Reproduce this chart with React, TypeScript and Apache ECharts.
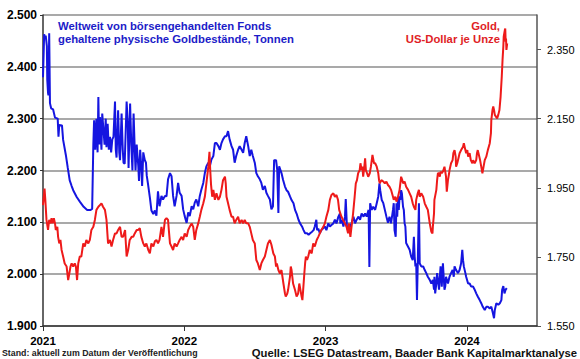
import React, { useEffect, useRef } from 'react';
import * as echarts from 'echarts';

// Weltweit von ETFs gehaltene physische Goldbestände, Tonnen (left axis)
const etfHoldings: [string, number][] = [
  ['2021-01-01', 2380], ['2021-01-04', 2463], ['2021-01-06', 2455], ['2021-01-08', 2460],
  ['2021-01-11', 2440], ['2021-01-12', 2375], ['2021-01-14', 2350], ['2021-01-15', 2345],
  ['2021-01-17', 2465], ['2021-01-19', 2330], ['2021-01-22', 2320], ['2021-01-27', 2318],
  ['2021-02-01', 2302], ['2021-02-08', 2300], ['2021-02-10', 2265], ['2021-02-12', 2288],
  ['2021-02-19', 2287], ['2021-02-22', 2259], ['2021-03-01', 2230], ['2021-03-06', 2205],
  ['2021-03-11', 2181], ['2021-03-16', 2170], ['2021-03-20', 2162], ['2021-03-29', 2149],
  ['2021-04-07', 2139], ['2021-04-16', 2130], ['2021-04-25', 2124], ['2021-05-04', 2124],
  ['2021-05-08', 2126], ['2021-05-11', 2250], ['2021-05-13', 2297], ['2021-05-16', 2240],
  ['2021-05-19', 2300], ['2021-05-22', 2235], ['2021-05-24', 2342], ['2021-05-26', 2250],
  ['2021-05-28', 2303], ['2021-06-01', 2240], ['2021-06-03', 2310], ['2021-06-06', 2280],
  ['2021-06-09', 2250], ['2021-06-12', 2300], ['2021-06-14', 2245], ['2021-06-17', 2290],
  ['2021-06-20', 2240], ['2021-06-23', 2265], ['2021-06-26', 2235], ['2021-06-29', 2260],
  ['2021-07-02', 2265], ['2021-07-06', 2333], ['2021-07-08', 2240], ['2021-07-10', 2225],
  ['2021-07-14', 2316], ['2021-07-17', 2235], ['2021-07-19', 2220], ['2021-07-23', 2310],
  ['2021-07-26', 2240], ['2021-07-28', 2215], ['2021-07-31', 2213], ['2021-08-05', 2333],
  ['2021-08-08', 2290], ['2021-08-10', 2205], ['2021-08-14', 2329], ['2021-08-17', 2250],
  ['2021-08-20', 2200], ['2021-08-23', 2310], ['2021-08-26', 2240], ['2021-08-28', 2200],
  ['2021-08-31', 2250], ['2021-09-04', 2210], ['2021-09-06', 2180], ['2021-09-09', 2240],
  ['2021-09-12', 2205], ['2021-09-14', 2170], ['2021-09-17', 2235], ['2021-09-21', 2220],
  ['2021-09-24', 2215], ['2021-09-26', 2190], ['2021-09-29', 2175], ['2021-10-04', 2148],
  ['2021-10-08', 2123], ['2021-10-13', 2116], ['2021-10-17', 2123], ['2021-10-21', 2113],
  ['2021-10-25', 2160], ['2021-10-29', 2131], ['2021-11-03', 2151], ['2021-11-07', 2144],
  ['2021-11-12', 2151], ['2021-11-16', 2150], ['2021-11-20', 2183], ['2021-11-25', 2195],
  ['2021-11-29', 2189], ['2021-12-03', 2151], ['2021-12-07', 2131], ['2021-12-12', 2151],
  ['2021-12-16', 2176], ['2021-12-20', 2157], ['2021-12-25', 2151], ['2021-12-29', 2125],
  ['2022-01-02', 2112], ['2022-01-07', 2099], ['2022-01-11', 2119], ['2022-01-15', 2112],
  ['2022-01-20', 2131], ['2022-01-24', 2125], ['2022-01-28', 2138], ['2022-02-01', 2144],
  ['2022-02-06', 2131], ['2022-02-10', 2151], ['2022-02-14', 2163], ['2022-02-19', 2176],
  ['2022-02-23', 2195], ['2022-02-27', 2208], ['2022-03-04', 2215], ['2022-03-08', 2208],
  ['2022-03-12', 2221], ['2022-03-17', 2228], ['2022-03-21', 2253], ['2022-03-25', 2253],
  ['2022-03-30', 2247], ['2022-04-03', 2240], ['2022-04-07', 2253], ['2022-04-11', 2260],
  ['2022-04-16', 2266], ['2022-04-20', 2266], ['2022-04-24', 2276], ['2022-04-28', 2260],
  ['2022-05-03', 2247], ['2022-05-07', 2240], ['2022-05-11', 2215], ['2022-05-15', 2228],
  ['2022-05-20', 2240], ['2022-05-24', 2247], ['2022-05-29', 2240], ['2022-06-02', 2234],
  ['2022-06-06', 2253], ['2022-06-10', 2266], ['2022-06-15', 2247], ['2022-06-19', 2228],
  ['2022-06-23', 2240], ['2022-06-27', 2228], ['2022-07-02', 2215], ['2022-07-06', 2195],
  ['2022-07-10', 2189], ['2022-07-15', 2183], ['2022-07-19', 2176], ['2022-07-23', 2163],
  ['2022-07-28', 2170], ['2022-08-01', 2157], ['2022-08-05', 2151], ['2022-08-10', 2144],
  ['2022-08-14', 2125], ['2022-08-18', 2131], ['2022-08-21', 2220], ['2022-08-26', 2220],
  ['2022-08-29', 2201], ['2022-09-01', 2118], ['2022-09-03', 2208], ['2022-09-09', 2195],
  ['2022-09-13', 2182], ['2022-09-18', 2169], ['2022-09-22', 2162], ['2022-09-26', 2159],
  ['2022-10-01', 2150], ['2022-10-05', 2143], ['2022-10-10', 2137], ['2022-10-14', 2124],
  ['2022-10-18', 2117], ['2022-10-23', 2105], ['2022-10-27', 2098], ['2022-11-01', 2092],
  ['2022-11-05', 2085], ['2022-11-09', 2079], ['2022-11-14', 2079], ['2022-11-18', 2076],
  ['2022-11-22', 2079], ['2022-11-27', 2082], ['2022-12-01', 2085], ['2022-12-04', 2092],
  ['2022-12-08', 2105], ['2022-12-10', 2085], ['2022-12-13', 2088], ['2022-12-17', 2079],
  ['2022-12-21', 2085], ['2022-12-25', 2088], ['2022-12-30', 2092], ['2023-01-03', 2085],
  ['2023-01-08', 2098], ['2023-01-12', 2092], ['2023-01-16', 2095], ['2023-01-21', 2098],
  ['2023-01-25', 2105], ['2023-01-29', 2098], ['2023-02-03', 2111], ['2023-02-07', 2117],
  ['2023-02-08', 2098], ['2023-02-12', 2105], ['2023-02-16', 2092], ['2023-02-20', 2111],
  ['2023-02-22', 2145], ['2023-02-25', 2092], ['2023-02-28', 2085], ['2023-03-05', 2092],
  ['2023-03-09', 2098], ['2023-03-14', 2111], ['2023-03-18', 2098], ['2023-03-22', 2105],
  ['2023-03-27', 2111], ['2023-03-31', 2105], ['2023-04-04', 2117], ['2023-04-09', 2111],
  ['2023-04-13', 2117], ['2023-04-17', 2111], ['2023-04-22', 2124], ['2023-04-24', 2014],
  ['2023-04-26', 2137], ['2023-04-30', 2124], ['2023-05-04', 2130], ['2023-05-09', 2124],
  ['2023-05-13', 2137], ['2023-05-17', 2150], ['2023-05-20', 2175], ['2023-05-22', 2162],
  ['2023-05-26', 2143], ['2023-05-30', 2137], ['2023-06-03', 2124], ['2023-06-07', 2111],
  ['2023-06-11', 2099], ['2023-06-15', 2111], ['2023-06-19', 2098], ['2023-06-24', 2124],
  ['2023-06-26', 2137], ['2023-06-28', 2085], ['2023-07-01', 2072], ['2023-07-03', 2137],
  ['2023-07-05', 2111], ['2023-07-07', 2150], ['2023-07-09', 2124], ['2023-07-11', 2150],
  ['2023-07-13', 2143], ['2023-07-15', 2162], ['2023-07-17', 2156], ['2023-07-20', 2130],
  ['2023-07-22', 2124], ['2023-07-24', 2098], ['2023-07-26', 2092], ['2023-07-28', 2060],
  ['2023-08-02', 2053], ['2023-08-06', 2047], ['2023-08-10', 2034], ['2023-08-14', 2027],
  ['2023-08-17', 2072], ['2023-08-19', 2034], ['2023-08-21', 2015], ['2023-08-23', 2021],
  ['2023-08-25', 1950], ['2023-08-27', 2021], ['2023-08-30', 2137], ['2023-09-01', 2021],
  ['2023-09-05', 2015], ['2023-09-10', 2015], ['2023-09-14', 2008], ['2023-09-18', 2002],
  ['2023-09-22', 1995], ['2023-09-27', 1989], ['2023-10-01', 1982], ['2023-10-05', 1989],
  ['2023-10-08', 1970], ['2023-10-09', 1995], ['2023-10-11', 1963], ['2023-10-14', 1982],
  ['2023-10-16', 2002], ['2023-10-18', 1989], ['2023-10-21', 1970], ['2023-10-23', 1995],
  ['2023-10-25', 2015], ['2023-10-27', 1989], ['2023-10-28', 1976], ['2023-10-31', 2021],
  ['2023-11-02', 1995], ['2023-11-04', 1970], ['2023-11-06', 1976], ['2023-11-08', 1995],
  ['2023-11-13', 1982], ['2023-11-17', 1995], ['2023-11-21', 2002], ['2023-11-25', 2008],
  ['2023-11-28', 1995], ['2023-11-30', 2015], ['2023-12-04', 2008], ['2023-12-09', 2002],
  ['2023-12-13', 2008], ['2023-12-17', 2021], ['2023-12-20', 2047], ['2023-12-22', 2027],
  ['2023-12-24', 2015], ['2023-12-28', 2002], ['2023-12-30', 1995], ['2024-01-04', 1982],
  ['2024-01-08', 1982], ['2024-01-12', 1976], ['2024-01-17', 1976], ['2024-01-21', 1970],
  ['2024-01-25', 1963], ['2024-01-29', 1957], ['2024-02-03', 1950], ['2024-02-07', 1944],
  ['2024-02-11', 1937], ['2024-02-16', 1931], ['2024-02-20', 1937], ['2024-02-24', 1937],
  ['2024-02-29', 1934], ['2024-03-04', 1937], ['2024-03-08', 1925], ['2024-03-11', 1915],
  ['2024-03-13', 1931], ['2024-03-17', 1944], ['2024-03-22', 1941], ['2024-03-26', 1944],
  ['2024-03-30', 1950], ['2024-04-01', 1970], ['2024-04-04', 1977], ['2024-04-07', 1963],
  ['2024-04-10', 1970], ['2024-04-13', 1973],
];

// Gold, US-Dollar je Unze (right axis)
const goldPrice: [string, number][] = [
  ['2021-01-01', 1900], ['2021-01-05', 1948], ['2021-01-07', 1915], ['2021-01-10', 1857],
  ['2021-01-14', 1828], ['2021-01-17', 1857], ['2021-01-21', 1847], ['2021-01-23', 1862],
  ['2021-01-26', 1847], ['2021-01-29', 1862], ['2021-02-01', 1847], ['2021-02-03', 1828],
  ['2021-02-07', 1837], ['2021-02-09', 1808], ['2021-02-12', 1789], ['2021-02-15', 1799],
  ['2021-02-18', 1770], ['2021-02-22', 1751], ['2021-02-26', 1731], ['2021-03-03', 1722],
  ['2021-03-07', 1683], ['2021-03-10', 1702], ['2021-03-13', 1722], ['2021-03-16', 1731],
  ['2021-03-20', 1722], ['2021-03-24', 1731], ['2021-03-27', 1722], ['2021-03-30', 1683],
  ['2021-04-02', 1731], ['2021-04-06', 1751], ['2021-04-10', 1751], ['2021-04-15', 1789],
  ['2021-04-19', 1780], ['2021-04-23', 1799], ['2021-04-28', 1789], ['2021-05-02', 1799],
  ['2021-05-06', 1828], ['2021-05-11', 1837], ['2021-05-15', 1857], ['2021-05-19', 1886],
  ['2021-05-24', 1895], ['2021-05-28', 1900], ['2021-06-01', 1905], ['2021-06-05', 1895],
  ['2021-06-10', 1886], ['2021-06-14', 1857], ['2021-06-18', 1789], ['2021-06-23', 1799],
  ['2021-06-27', 1780], ['2021-07-01', 1799], ['2021-07-06', 1818], ['2021-07-10', 1818],
  ['2021-07-14', 1828], ['2021-07-19', 1837], ['2021-07-23', 1808], ['2021-07-27', 1808],
  ['2021-08-01', 1828], ['2021-08-05', 1751], ['2021-08-09', 1770], ['2021-08-13', 1799],
  ['2021-08-18', 1808], ['2021-08-22', 1808], ['2021-08-26', 1818], ['2021-08-31', 1828],
  ['2021-09-04', 1828], ['2021-09-08', 1833], ['2021-09-12', 1808], ['2021-09-17', 1789],
  ['2021-09-21', 1780], ['2021-09-25', 1789], ['2021-09-30', 1770], ['2021-10-04', 1760],
  ['2021-10-08', 1789], ['2021-10-13', 1780], ['2021-10-17', 1795], ['2021-10-21', 1799],
  ['2021-10-25', 1789], ['2021-10-29', 1799], ['2021-11-03', 1837], ['2021-11-07', 1808],
  ['2021-11-12', 1857], ['2021-11-16', 1862], ['2021-11-20', 1857], ['2021-11-22', 1828],
  ['2021-11-25', 1789], ['2021-11-29', 1780], ['2021-12-03', 1770], ['2021-12-07', 1789],
  ['2021-12-12', 1780], ['2021-12-16', 1789], ['2021-12-20', 1799], ['2021-12-25', 1808],
  ['2021-12-29', 1799], ['2022-01-02', 1818], ['2022-01-07', 1808], ['2022-01-11', 1828],
  ['2022-01-15', 1837], ['2022-01-20', 1847], ['2022-01-24', 1837], ['2022-01-28', 1799],
  ['2022-02-01', 1828], ['2022-02-06', 1847], ['2022-02-10', 1866], ['2022-02-14', 1886],
  ['2022-02-19', 1905], ['2022-02-23', 1924], ['2022-02-27', 1963], ['2022-03-04', 2011],
  ['2022-03-07', 2054], ['2022-03-09', 2000], ['2022-03-11', 1960], ['2022-03-14', 1924],
  ['2022-03-17', 1944], ['2022-03-21', 1915], ['2022-03-25', 1934], ['2022-03-30', 1915],
  ['2022-04-03', 1924], ['2022-04-07', 1944], ['2022-04-11', 1972], ['2022-04-16', 1982],
  ['2022-04-18', 1963], ['2022-04-20', 1924], ['2022-04-24', 1905], ['2022-04-28', 1886],
  ['2022-05-03', 1866], ['2022-05-07', 1866], ['2022-05-11', 1847], ['2022-05-15', 1857],
  ['2022-05-20', 1866], ['2022-05-24', 1847], ['2022-05-29', 1857], ['2022-06-02', 1847],
  ['2022-06-06', 1857], ['2022-06-10', 1847], ['2022-06-15', 1847], ['2022-06-19', 1837],
  ['2022-06-23', 1818], ['2022-06-27', 1799], ['2022-07-02', 1789], ['2022-07-06', 1741],
  ['2022-07-10', 1731], ['2022-07-15', 1712], ['2022-07-19', 1731], ['2022-07-23', 1741],
  ['2022-07-28', 1751], ['2022-08-01', 1770], ['2022-08-05', 1789], ['2022-08-10', 1799],
  ['2022-08-14', 1785], ['2022-08-19', 1760], ['2022-08-23', 1751], ['2022-08-26', 1722],
  ['2022-08-28', 1731], ['2022-09-01', 1712], ['2022-09-05', 1702], ['2022-09-09', 1712],
  ['2022-09-14', 1673], ['2022-09-18', 1644], ['2022-09-20', 1635], ['2022-09-24', 1644],
  ['2022-09-26', 1654], ['2022-10-01', 1693], ['2022-10-03', 1722], ['2022-10-05', 1712],
  ['2022-10-09', 1673], ['2022-10-14', 1654], ['2022-10-18', 1635], ['2022-10-22', 1644],
  ['2022-10-25', 1673], ['2022-10-28', 1654], ['2022-10-31', 1635], ['2022-11-02', 1625],
  ['2022-11-04', 1654], ['2022-11-07', 1702], ['2022-11-09', 1731], ['2022-11-11', 1751],
  ['2022-11-14', 1741], ['2022-11-17', 1751], ['2022-11-21', 1770], ['2022-11-26', 1760],
  ['2022-11-30', 1789], ['2022-12-04', 1780], ['2022-12-09', 1799], ['2022-12-13', 1808],
  ['2022-12-17', 1818], ['2022-12-21', 1828], ['2022-12-26', 1837], ['2022-12-30', 1847],
  ['2023-01-03', 1866], ['2023-01-08', 1886], ['2023-01-12', 1915], ['2023-01-16', 1929],
  ['2023-01-21', 1934], ['2023-01-25', 1924], ['2023-01-29', 1929], ['2023-02-02', 1915],
  ['2023-02-05', 1886], ['2023-02-08', 1876], ['2023-02-11', 1866], ['2023-02-15', 1857],
  ['2023-02-20', 1847], ['2023-02-24', 1837], ['2023-02-28', 1818], ['2023-03-02', 1847],
  ['2023-03-06', 1808], ['2023-03-08', 1828], ['2023-03-13', 1876], ['2023-03-17', 1924],
  ['2023-03-20', 1963], ['2023-03-23', 1972], ['2023-03-26', 1992], ['2023-03-30', 2001],
  ['2023-04-01', 2021], ['2023-04-04', 2001], ['2023-04-06', 2011], ['2023-04-08', 1982],
  ['2023-04-11', 2011], ['2023-04-13', 2035], ['2023-04-15', 2001], ['2023-04-18', 1992],
  ['2023-04-21', 1982], ['2023-04-25', 1992], ['2023-04-28', 2011], ['2023-05-02', 2045],
  ['2023-05-06', 2021], ['2023-05-09', 2021], ['2023-05-13', 2011], ['2023-05-17', 1992],
  ['2023-05-19', 1972], ['2023-05-21', 1963], ['2023-05-25', 1972], ['2023-05-30', 1968],
  ['2023-06-03', 1963], ['2023-06-07', 1968], ['2023-06-11', 1958], ['2023-06-15', 1953],
  ['2023-06-19', 1944], ['2023-06-24', 1924], ['2023-06-26', 1915], ['2023-06-30', 1924],
  ['2023-07-03', 1910], ['2023-07-07', 1924], ['2023-07-11', 1944], ['2023-07-13', 1963],
  ['2023-07-15', 1982], ['2023-07-18', 1972], ['2023-07-20', 1963], ['2023-07-24', 1968],
  ['2023-07-28', 1953], ['2023-08-02', 1944], ['2023-08-06', 1934], ['2023-08-10', 1924],
  ['2023-08-14', 1905], ['2023-08-17', 1895], ['2023-08-21', 1886], ['2023-08-23', 1915],
  ['2023-08-27', 1934], ['2023-08-30', 1944], ['2023-09-01', 1924], ['2023-09-05', 1934],
  ['2023-09-10', 1924], ['2023-09-12', 1915], ['2023-09-14', 1905], ['2023-09-18', 1895],
  ['2023-09-22', 1886], ['2023-09-27', 1847], ['2023-10-01', 1823], ['2023-10-04', 1818],
  ['2023-10-05', 1837], ['2023-10-08', 1876], ['2023-10-09', 1915], ['2023-10-14', 1944],
  ['2023-10-16', 1972], ['2023-10-18', 1992], ['2023-10-21', 1992], ['2023-10-23', 1982],
  ['2023-10-25', 1997], ['2023-10-28', 1992], ['2023-10-31', 1997], ['2023-11-04', 2011],
  ['2023-11-08', 1982], ['2023-11-10', 1939], ['2023-11-13', 1972], ['2023-11-16', 1992],
  ['2023-11-17', 2001], ['2023-11-21', 2021], ['2023-11-25', 2030], ['2023-11-27', 2050],
  ['2023-11-30', 2059], ['2023-12-03', 2040], ['2023-12-04', 2011], ['2023-12-07', 2021],
  ['2023-12-11', 2040], ['2023-12-13', 2050], ['2023-12-17', 2059], ['2023-12-22', 2069],
  ['2023-12-24', 2079], ['2023-12-28', 2059], ['2023-12-30', 2050], ['2024-01-02', 2059],
  ['2024-01-04', 2040], ['2024-01-08', 2050], ['2024-01-11', 2030], ['2024-01-15', 2021],
  ['2024-01-17', 2030], ['2024-01-21', 2021], ['2024-01-25', 2030], ['2024-01-27', 2050],
  ['2024-01-29', 2059], ['2024-02-02', 2040], ['2024-02-04', 2030], ['2024-02-07', 2011],
  ['2024-02-10', 1992], ['2024-02-13', 2011], ['2024-02-16', 2030], ['2024-02-20', 2040],
  ['2024-02-24', 2059], ['2024-02-29', 2079], ['2024-03-03', 2108], ['2024-03-04', 2146],
  ['2024-03-07', 2175], ['2024-03-09', 2185], ['2024-03-11', 2175], ['2024-03-13', 2161],
  ['2024-03-16', 2156], ['2024-03-19', 2151], ['2024-03-22', 2161], ['2024-03-25', 2175],
  ['2024-03-28', 2214], ['2024-03-31', 2272], ['2024-04-02', 2320], ['2024-04-04', 2358],
  ['2024-04-05', 2387], ['2024-04-08', 2407], ['2024-04-09', 2411], ['2024-04-10', 2373],
  ['2024-04-11', 2382], ['2024-04-12', 2349], ['2024-04-14', 2368],
];

const leftTicks = [1900, 2000, 2100, 2200, 2300, 2400, 2500];
const rightTicks = [1550, 1750, 1950, 2150, 2350];
const yearTicks = ['2021-01-01', '2022-01-01', '2023-01-01', '2024-01-01'];
const yearLabels = ['2021', '2022', '2023', '2024'];
const axisStart = '2021-01-01';
const axisEnd = '2024-06-30';

const FONT = "'Liberation Sans', Arial, sans-serif";
const START = Date.parse(axisStart);
const dayIndex = (d: string) => Math.round((Date.parse(d) - START) / 86400000);
const fmt = (v: number) => {
  const s = String(Math.round(v));
  return s.length > 3 ? s.slice(0, -3) + '.' + s.slice(-3) : s;
};

export default function App() {
  const ref = useRef<HTMLDivElement>(null);
  useEffect(() => {
    if (!ref.current) return;
    const chart = echarts.init(ref.current, undefined, { renderer: 'svg' });
    const yearIdx = yearTicks.map(dayIndex);
    chart.setOption({
      animation: false,
      backgroundColor: '#ffffff',
      grid: { left: 43, right: 43, top: 15, bottom: 33, containLabel: false },
      xAxis: {
        type: 'value',
        min: 0,
        max: dayIndex(axisEnd),
        interval: 365,
        axisLine: { show: true, lineStyle: { color: '#333', width: 1.5 } },
        axisTick: { show: true, length: 5, customValues: yearIdx, lineStyle: { color: '#333', width: 1 } },
        axisLabel: {
          customValues: yearIdx,
          formatter: (v: number) => {
            const i = yearIdx.indexOf(Math.round(v));
            return i >= 0 ? yearLabels[i] : '';
          },
          fontFamily: FONT, fontWeight: 'bold', fontSize: 11.5, lineHeight: 11, color: '#000', margin: 9,
        },
        splitLine: { show: false },
      },
      yAxis: [
        {
          type: 'value',
          position: 'left',
          min: leftTicks[0],
          max: leftTicks[leftTicks.length - 1],
          interval: 100,
          axisLine: { show: true, lineStyle: { color: '#333', width: 1.5 } },
          axisTick: { show: true, length: 3, lineStyle: { color: '#333' } },
          axisLabel: { formatter: fmt, fontFamily: FONT, fontWeight: 'bold', fontSize: 12, color: '#000', margin: 6 },
          splitLine: { show: true, lineStyle: { color: '#8c8c8c', width: 1.5 } },
        },
        {
          type: 'value',
          position: 'right',
          min: 1550,
          max: 2450,
          axisLine: { show: true, lineStyle: { color: '#555', width: 1.5 } },
          axisTick: { show: true, length: 4, customValues: rightTicks, lineStyle: { color: '#555' } },
          axisLabel: { customValues: rightTicks, formatter: fmt, fontFamily: FONT, fontSize: 11, color: '#000', margin: 10 },
          splitLine: { show: false },
        },
      ],
      series: [
        {
          type: 'line',
          name: 'ETF-Goldbestände',
          yAxisIndex: 0,
          data: etfHoldings.map(([d, v]) => [dayIndex(d), v]),
          showSymbol: false,
          symbol: 'none',
          lineStyle: { color: '#1515e0', width: 2 },
          z: 2,
        },
        {
          type: 'line',
          name: 'Gold',
          yAxisIndex: 1,
          data: goldPrice.map(([d, v]) => [dayIndex(d), v]),
          showSymbol: false,
          symbol: 'none',
          lineStyle: { color: '#ee1a1a', width: 2 },
          z: 3,
        },
      ],
      graphic: [
        {
          type: 'text', x: 58, y: 19, z: 10,
          style: {
            text: 'Weltweit von börsengehandelten Fonds\ngehaltene physische Goldbestände, Tonnen',
            fontFamily: FONT, fontWeight: 'bold', fontSize: 11.3, lineHeight: 13, fill: '#1c1cc8',
          },
        },
        {
          type: 'text', x: 500, y: 19, z: 10,
          style: {
            text: 'Gold,\nUS-Dollar je Unze', align: 'right',
            fontFamily: FONT, fontWeight: 'bold', fontSize: 11.3, lineHeight: 13, fill: '#e01e26',
          },
        },
        {
          type: 'text', x: 2, y: 348, z: 10,
          style: {
            text: 'Stand: aktuell zum Datum der Veröffentlichung',
            fontFamily: FONT, fontWeight: 'bold', fontSize: 8.8, fill: '#222',
          },
        },
        {
          type: 'text', x: 577, y: 347, z: 10,
          style: {
            text: 'Quelle: LSEG Datastream, Baader Bank Kapitalmarktanalyse', align: 'right',
            fontFamily: FONT, fontWeight: 'bold', fontSize: 11.3, lineHeight: 12, fill: '#111',
          },
        },
      ],
    });
    return () => chart.dispose();
  }, []);
  return <div ref={ref} style={{ position: 'absolute', left: 0, top: 0, width: 580, height: 359 }} />;
}
